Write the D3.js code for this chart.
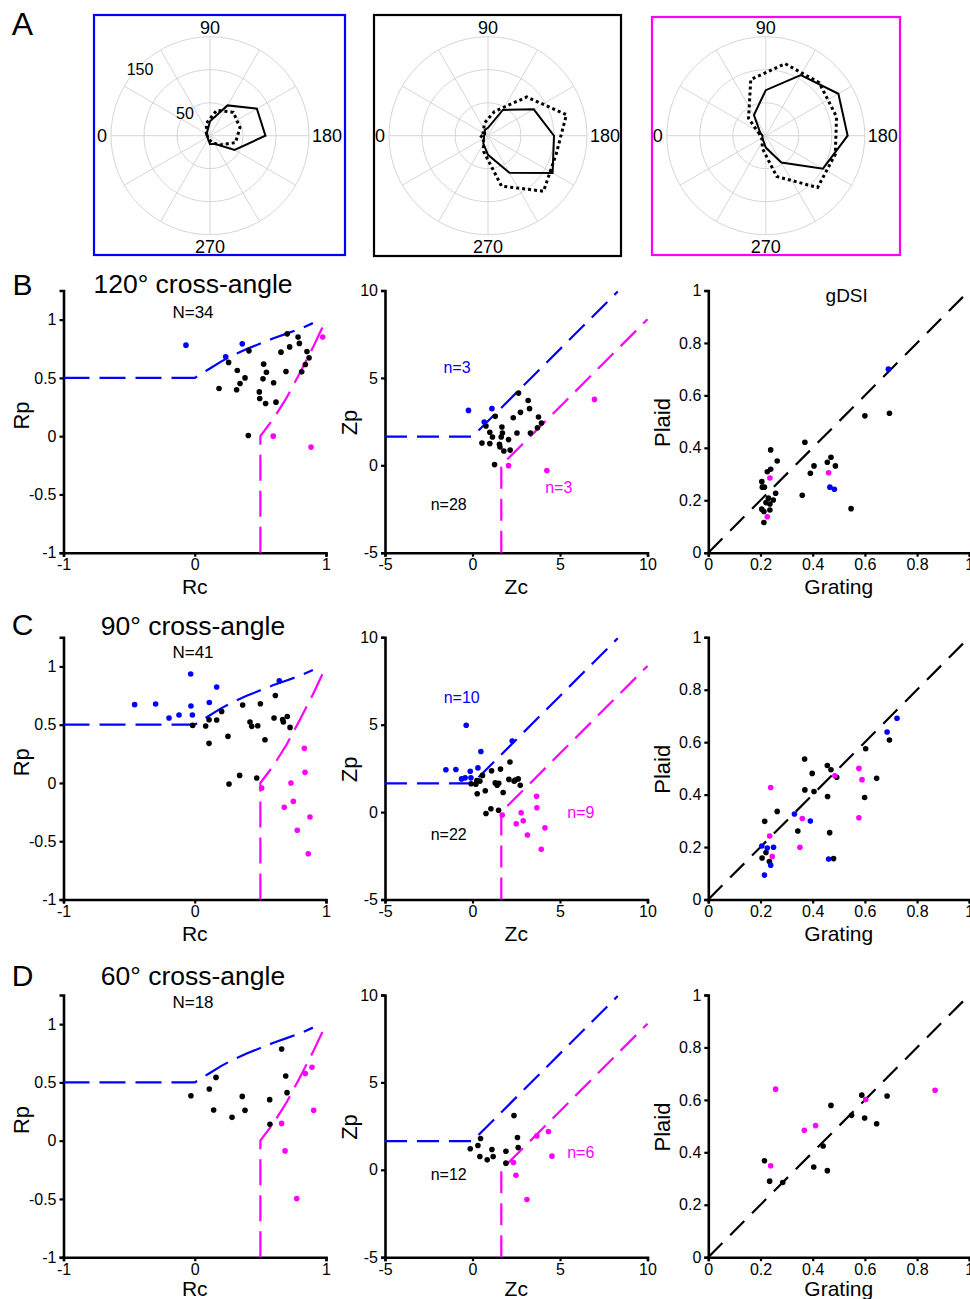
<!DOCTYPE html>
<html><head><meta charset="utf-8">
<script src="https://cdn.jsdelivr.net/npm/d3@7"></script>
<style>
body{margin:0;background:#fff}
svg{display:block}
text{font-family:"Liberation Sans",Arial,sans-serif;fill:#000}
</style>
</head><body>
<svg id="c" width="970" height="1299"></svg>
<script>
// ================= DATA =================
// Polar tuning curves (row A): grating (solid) and plaid (dotted)
const gratingDirs = [0,30,60,90,120,150,180,210,240,270,300,330];
const plaidDirs   = [15,45,75,105,135,165,195,225,255,285,315,345];
const grating1 = [4,6,8,22,53,82,84,43,14,13,6,4];
const plaid1   = [5,8,20,40,50,47,40,20,10,6,4,4];
const grating2 = [6,5,10,12,45,80,100,113,65,29,14,7];
const plaid2   = [8,10,20,38,83,123,107,119,79,25,10,12];
const grating3 = [5,10,36,69,106,127,124,100,47,18,8,6];
const plaid3   = [10,37,88,113,114,111,109,111,64,20,8,8];
const polarRings = [50,100,150];
const polarDirLabels = ["0","90","180","270"];
const polarRingLabels = ["50","150"];

// Row titles
const rowLetters = ["B","C","D"];
const rowTitles = ["120° cross-angle","90° cross-angle","60° cross-angle"];
const rowN = ["N=34","N=41","N=18"];

// Rc/Rp scatter
const rcrpB_black = [[0.185,0.409],[0.258,0.633],[0.324,0.564],[0.345,0.452],[0.319,0.398],[0.383,0.5],[0.413,0.732],[0.408,0.006],[0.492,0.38],[0.495,0.323],[0.54,0.28],[0.619,0.292],[0.525,0.618],[0.546,0.549],[0.52,0.492],[0.601,0.458],[0.657,0.721],[0.705,0.878],[0.723,0.766],[0.695,0.555],[0.787,0.85],[0.797,0.796],[0.815,0.552],[0.855,0.727],[0.871,0.672],[0.843,0.615]];
const rcrpB_blue = [[-0.067,0.781],[0.362,0.792],[0.236,0.681]];
const rcrpB_magenta = [[0.975,0.85],[0.598,0],[0.886,-0.094]];
const rcrpC_black = [[-0.016,0.494],[0.083,0.489],[0.109,0.543],[0.109,0.34],[0.167,0.54],[0.205,0.614],[0.253,0.4],[0.261,-0.009],[0.342,0.065],[0.365,0.669],[0.421,0.523],[0.434,0.486],[0.48,0.491],[0.5,0.68],[0.472,0.043],[0.535,0.371],[0.614,0.751],[0.604,0.557],[0.67,0.545],[0.675,0.523],[0.705,0.571],[0.726,0.477]];
const rcrpC_blue = [[-0.031,0.935],[-0.458,0.672],[-0.298,0.678],[-0.196,0.557],[-0.12,0.583],[-0.029,0.66],[-0.018,0.583],[0.111,0.691],[0.167,0.823],[0.644,0.877]];
const rcrpC_magenta = [[0.51,-0.043],[0.835,0.297],[0.84,0.091],[0.733,0],[0.751,-0.158],[0.682,-0.209],[0.878,-0.292],[0.781,-0.406],[0.865,-0.607]];
const rcrpD_black = [[-0.029,0.386],[0.111,0.443],[0.162,0.543],[0.144,0.263],[0.284,0.2],[0.362,0.38],[0.383,0.26],[0.571,0.352],[0.573,0.14],[0.662,0.786],[0.693,0.555],[0.703,0.412]];
const rcrpD_blue = [];
const rcrpD_magenta = [[0.893,0.629],[0.842,0.577],[0.906,0.26],[0.662,0.148],[0.688,-0.088],[0.777,-0.497]];

// Zc/Zp scatter
const zB_black = [[0.54,1.28],[0.77,2.25],[0.99,1.89],[0.99,1.24],[1.14,1.62],[1.26,0.04],[1.3,2.8],[1.54,1.2],[1.68,2.19],[1.71,1.85],[1.64,1.62],[1.57,1.05],[1.79,0.82],[2.06,1.47],[2.15,0.87],[2.33,2.72],[2.54,1.85],[2.63,4.13],[2.74,3.03],[3.18,3.71],[3.26,3.24],[3.31,1.85],[3.77,2.76],[3.71,2.15],[3.94,2.42]];
const zB_blue = [[-0.23,3.14],[1.11,3.24],[0.67,2.48]];
const zB_magenta = [[2.06,-0.02],[4.25,-0.3],[6.97,3.77]];
const zC_black = [[-0.08,1.62],[0.19,1.6],[0.25,1.81],[0.42,1.77],[0.57,2.1],[0.27,1.05],[0.73,1.22],[0.77,-0.08],[1.09,2.36],[1.05,0.19],[1.3,1.67],[1.41,1.54],[1.49,0.11],[1.6,2.46],[1.75,1.12],[2.08,1.87],[2.14,2.87],[2.38,1.77],[2.44,1.83],[2.61,1.9],[2.73,1.53],[1.5,1.65]];
const zC_blue = [[-0.36,4.97],[-1.52,2.42],[-0.95,2.44],[-0.63,1.9],[-0.42,1.96],[-0.13,2.34],[-0.09,1.96],[0.31,2.53],[0.48,3.47],[2.27,4.07]];
const zC_magenta = [[1.7,-0.17],[2.78,-0.04],[2.9,-0.5],[2.5,-0.67],[3.14,-1.31],[3.66,0.9],[3.68,0.25],[4.14,-0.9],[3.93,-2.13]];
const zD_black = [[-0.13,1.2],[0.31,1.39],[0.46,1.79],[0.42,0.76],[0.84,0.57],[1.11,1.16],[1.18,0.76],[1.91,1.06],[1.91,0.38],[2.37,3.1],[2.57,1.85],[2.61,1.27]];
const zD_blue = [];
const zD_magenta = [[2.34,0.42],[2.48,-0.31],[3.11,-1.7],[3.68,1.94],[4.34,2.19],[4.54,0.78]];

// gDSI scatter (grating, plaid)
const dsiB_black = [[0.239,0.392],[0.264,0.35],[0.226,0.309],[0.239,0.318],[0.205,0.271],[0.207,0.25],[0.215,0.25],[0.258,0.227],[0.23,0.208],[0.249,0.201],[0.221,0.191],[0.236,0.186],[0.205,0.166],[0.213,0.157],[0.236,0.163],[0.213,0.115],[0.37,0.421],[0.36,0.219],[0.391,0.303],[0.405,0.331],[0.456,0.345],[0.47,0.364],[0.487,0.331],[0.547,0.168],[0.6,0.522],[0.694,0.532]];
const dsiB_blue = [[0.69,0.70],[0.466,0.25],[0.483,0.242]];
const dsiB_magenta = [[0.236,0.285],[0.226,0.137],[0.461,0.305]];
const dsiC_black = [[0.216,0.298],[0.264,0.336],[0.206,0.158],[0.221,0.179],[0.234,0.145],[0.369,0.536],[0.37,0.418],[0.398,0.481],[0.405,0.412],[0.343,0.261],[0.456,0.511],[0.47,0.495],[0.492,0.466],[0.457,0.393],[0.465,0.255],[0.48,0.156],[0.603,0.575],[0.599,0.389],[0.645,0.462],[0.694,0.608]];
const dsiC_blue = [[0.723,0.691],[0.685,0.639],[0.33,0.326],[0.391,0.299],[0.205,0.204],[0.226,0.196],[0.25,0.199],[0.239,0.131],[0.215,0.093],[0.461,0.154]];
const dsiC_magenta = [[0.239,0.427],[0.235,0.242],[0.245,0.164],[0.351,0.199],[0.36,0.309],[0.485,0.472],[0.577,0.5],[0.589,0.457],[0.577,0.312]];
const dsiD_black = [[0.215,0.368],[0.235,0.29],[0.285,0.285],[0.404,0.344],[0.44,0.424],[0.456,0.33],[0.47,0.579],[0.549,0.541],[0.588,0.618],[0.599,0.531],[0.645,0.509],[0.685,0.615]];
const dsiD_blue = [];
const dsiD_magenta = [[0.258,0.641],[0.239,0.349],[0.368,0.484],[0.411,0.502],[0.603,0.601],[0.869,0.637]];

// Classification boundaries
const rcBlueRc = [-1,0,0.1,0.2,0.3,0.4,0.5,0.6,0.7,0.8,0.9];
const rcBlueRp = [0.5,0.5,0.57,0.64,0.70,0.75,0.795,0.84,0.88,0.92,0.97];
const rcMagRc  = [0.5,0.5,0.6,0.7,0.8,0.9,0.99];
const rcMagRp  = [-1,0,0.15,0.33,0.54,0.76,0.975];
const zBlueZc = [-5,0,8.3];
const zBlueZp = [1.645,1.645,9.945];
const zMagZc  = [1.645,1.645,10];
const zMagZp  = [-5,0,8.355];
const diagX = [0,1];
const diagY = [0,1];

// Group counts
const countsZ = [
  {blue:"n=3", magenta:"n=3", black:"n=28"},
  {blue:"n=10", magenta:"n=9", black:"n=22"},
  {blue:null, magenta:"n=6", black:"n=12"}
];

// Axis ticks
const rcTicks = [-1,0,1];
const rpTicks = [-1,-0.5,0,0.5,1];
const zTicks = [-5,0,5,10];
const dsiTicks = [0,0.2,0.4,0.6,0.8,1];

// ================= DRAWING =================
const BLUE = "#0000ff", MAG = "#ff00ff";
const svg = d3.select("#c");
const FONT = '"Liberation Sans",Arial,sans-serif';

// ---- Row A: polar plots ----
svg.append("text").attr("x",22.5).attr("y",35).attr("text-anchor","middle")
  .style("font-size","32px").text("A");

const rScale = d3.scaleLinear().domain([0,150]).range([0,99]);
const polarPanels = [
  {cx:210, cy:135.7, box:[94,15,251,240], color:BLUE, g:grating1, p:plaid1, rings:true},
  {cx:488, cy:135.7, box:[374,15,247,241], color:"#000", g:grating2, p:plaid2, rings:false},
  {cx:765.8, cy:135.7, box:[652,17,248,238], color:MAG, g:grating3, p:plaid3, rings:false}
];
const radial = d3.lineRadial().curve(d3.curveLinearClosed)
  .angle(d => (d[0]-90)*Math.PI/180).radius(d => rScale(d[1]));

polarPanels.forEach(P => {
  const g = svg.append("g");
  g.append("rect").attr("x",P.box[0]).attr("y",P.box[1]).attr("width",P.box[2]).attr("height",P.box[3])
    .attr("fill","none").attr("stroke",P.color).attr("stroke-width",2.2);
  const pg = g.append("g").attr("transform",`translate(${P.cx},${P.cy})`);
  polarRings.forEach(v => pg.append("circle").attr("r",rScale(v)).attr("fill","none")
    .attr("stroke","#d6d6d6").attr("stroke-width",1));
  gratingDirs.forEach(a => {
    const t=a*Math.PI/180, R=rScale(150);
    pg.append("line").attr("x1",0).attr("y1",0).attr("x2",-R*Math.cos(t)).attr("y2",-R*Math.sin(t))
      .attr("stroke","#d6d6d6").attr("stroke-width",1);
  });
  pg.append("path").datum(d3.zip(plaidDirs,P.p)).attr("d",radial)
    .attr("fill","none").attr("stroke","#000").attr("stroke-width",3).attr("stroke-dasharray","3,3");
  pg.append("path").datum(d3.zip(gratingDirs,P.g)).attr("d",radial)
    .attr("fill","none").attr("stroke","#000").attr("stroke-width",2);
  const fs="18px";
  pg.append("text").attr("x",-103).attr("y",6.5).attr("text-anchor","end").style("font-size",fs).text(polarDirLabels[0]);
  pg.append("text").attr("x",0).attr("y",-102).attr("text-anchor","middle").style("font-size",fs).text(polarDirLabels[1]);
  pg.append("text").attr("x",102).attr("y",6.5).attr("text-anchor","start").style("font-size",fs).text(polarDirLabels[2]);
  pg.append("text").attr("x",0).attr("y",117).attr("text-anchor","middle").style("font-size",fs).text(polarDirLabels[3]);
  if (P.rings) {
    pg.append("text").attr("x",-25).attr("y",-17).attr("text-anchor","middle").style("font-size","16px").text(polarRingLabels[0]);
    pg.append("text").attr("x",-70).attr("y",-61).attr("text-anchor","middle").style("font-size","16px").text(polarRingLabels[1]);
  }
});

// ---- Rows B, C, D ----
const rowTops = [290.5, 637.3, 995];
const plotH = 262.2;
const colX = [[63.5,326],[385,647.5],[708.3,969.3]];
const letterBase = [295,635,986];
const titleBase = [293.3,635,985];
const nBase = [317.7,658.3,1008.3];
const xLabOff = [41,41,38.5];

const rcrpData = [
  [rcrpB_black,rcrpB_blue,rcrpB_magenta],
  [rcrpC_black,rcrpC_blue,rcrpC_magenta],
  [rcrpD_black,rcrpD_blue,rcrpD_magenta]];
const zData = [
  [zB_black,zB_blue,zB_magenta],
  [zC_black,zC_blue,zC_magenta],
  [zD_black,zD_blue,zD_magenta]];
const dsiData = [
  [dsiB_black,dsiB_blue,dsiB_magenta],
  [dsiC_black,dsiC_blue,dsiC_magenta],
  [dsiD_black,dsiD_blue,dsiD_magenta]];
const countPos = [
  {blue:[457,373.3], magenta:[558.8,493.3], black:[448.7,510]},
  {blue:[461.7,703.3], magenta:[580.8,817.7], black:[448.7,840]},
  {blue:null, magenta:[580.8,1158.3], black:[448.7,1180]}];

function styleAxis(ax){
  ax.select(".domain").attr("stroke","#000").attr("stroke-width",2.6);
  ax.selectAll(".tick line").attr("stroke","#000").attr("stroke-width",2.2);
  ax.selectAll(".tick text").style("font-size","16px").style("font-family",FONT).attr("fill","#000");
}

function panel(row, col, xDom, yDom, xTicks, yTicks, xLabel, yLabel, ylabX, ylabOff, dash, lines, data){
  const top = rowTops[row], bottom = top + plotH;
  const [L,R] = colX[col];
  const x = d3.scaleLinear().domain(xDom).range([L,R]);
  const y = d3.scaleLinear().domain(yDom).range([bottom,top]);
  const g = svg.append("g");
  const fmt = d => String(d);
  const ax = g.append("g").attr("transform",`translate(0,${bottom})`)
    .call(d3.axisBottom(x).tickValues(xTicks).tickFormat(fmt).tickSizeOuter(0).tickSize(4).tickPadding(2));
  const ay = g.append("g").attr("transform",`translate(${L},0)`)
    .call(d3.axisLeft(y).tickValues(yTicks).tickFormat(fmt).tickSizeOuter(0).tickSize(4).tickPadding(3));
  styleAxis(ax); styleAxis(ay);
  const line = d3.line().x(d=>x(d[0])).y(d=>y(d[1]));
  lines.forEach(Ln => g.append("path").datum(d3.zip(Ln.xs,Ln.ys)).attr("d",line)
    .attr("fill","none").attr("stroke",Ln.color).attr("stroke-width",2.2).attr("stroke-dasharray",dash));
  const cols = ["#000",BLUE,MAG];
  data.forEach((arr,i) => g.selectAll(null).data(arr).join("circle")
    .attr("cx",d=>x(d[0])).attr("cy",d=>y(d[1])).attr("r",2.8).attr("fill",cols[i]));
  g.append("text").attr("x",(L+R)/2).attr("y",bottom+xLabOff[row]).attr("text-anchor","middle")
    .style("font-size","21px").text(xLabel);
  g.append("text").attr("transform",`translate(${ylabX},${top+ylabOff}) rotate(-90)`)
    .attr("text-anchor","middle").style("font-size","22px").text(yLabel);
  return {x,y,g};
}

for (let r=0;r<3;r++){
  svg.append("text").attr("x",22.5).attr("y",letterBase[r]).attr("text-anchor","middle")
    .style("font-size","30px").text(rowLetters[r]);
  svg.append("text").attr("x",193).attr("y",titleBase[r]).attr("text-anchor","middle")
    .style("font-size","26.5px").text(rowTitles[r]);
  svg.append("text").attr("x",193).attr("y",nBase[r]).attr("text-anchor","middle")
    .style("font-size","17px").text(rowN[r]);

  panel(r,0,[-1,1],[-1,1.25],rcTicks,rpTicks,"Rc","Rp",29,125,"26,10",
    [{xs:rcBlueRc,ys:rcBlueRp,color:BLUE},{xs:rcMagRc,ys:rcMagRp,color:MAG}], rcrpData[r]);
  panel(r,1,[-5,10],[-5,10],zTicks,zTicks,"Zc","Zp",357,132,"22,10",
    [{xs:zBlueZc,ys:zBlueZp,color:BLUE},{xs:zMagZc,ys:zMagZp,color:MAG}], zData[r]);
  panel(r,2,[0,1],[0,1],dsiTicks,dsiTicks,"Grating","Plaid",670,132,"20,11",
    [{xs:diagX,ys:diagY,color:"#000"}], dsiData[r]);

  const c = countsZ[r], p = countPos[r];
  [["blue",BLUE],["magenta",MAG],["black","#000"]].forEach(([k,colr]) => {
    if (c[k]) svg.append("text").attr("x",p[k][0]).attr("y",p[k][1]).attr("text-anchor","middle")
      .style("font-size","16px").style("fill",colr).text(c[k]);
  });
}
svg.append("text").attr("x",846.7).attr("y",301.5).attr("text-anchor","middle")
  .style("font-size","19px").text("gDSI");
</script>
</body></html>
